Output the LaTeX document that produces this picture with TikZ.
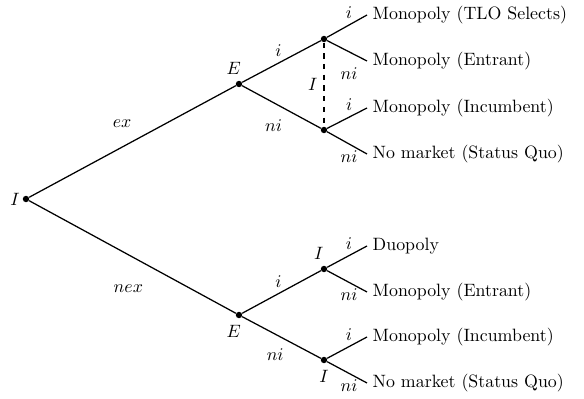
\documentclass[tikz,border=0pt]{standalone}
\usepackage{amsmath, amssymb}
\usepackage{tikz}
\usetikzlibrary{positioning, calc}

\begin{document}
\begin{tikzpicture}[x=0.56pt, y=-0.56pt,
	noeud/.style={circle, fill=black, inner sep=0pt, minimum size=3.6pt},
	issue/.style={anchor=west, inner sep=3pt},
	branche/.style={line width=0.7pt}]
	\useasboundingbox (0,0) rectangle (584,399);
	
	% racine : I choisit ex ou nex
	\node[noeud, label={[label distance=-2pt]left:$I$}] (r) at (26,199) {};
	
	% E choisit i ou ni
	\node[noeud, label={[xshift=-3pt]above:$E$}] (e1) at (239,84) {};
	\node[noeud, label={[xshift=-3pt]below:$E$}] (e2) at (239,315) {};
	
	% I choisit i ou ni
	\node[noeud] (a1) at (324,39) {};
	\node[noeud] (a2) at (324,130) {};
	\node[noeud, label={[xshift=-3pt]above:$I$}] (b1) at (324,269) {};
	\node[noeud, label={below:$I$}] (b2) at (324,360) {};
	
	% issues
	\node[issue] (f1) at (367,15) {Monopoly (TLO Selects)};
	\node[issue] (f2) at (367,61) {Monopoly (Entrant)};
	\node[issue] (f3) at (367,108) {Monopoly (Incumbent)};
	\node[issue] (f4) at (367,154) {No market (Status Quo)};
	\node[issue] (f5) at (367,246) {Duopoly};
	\node[issue] (f6) at (367,292) {Monopoly (Entrant)};
	\node[issue] (f7) at (367,337) {Monopoly (Incumbent)};
	\node[issue] (f8) at (367,383) {No market (Status Quo)};
	
	% premier niveau
	\draw[branche] (r) -- node[pos=.45, above=7pt] {$ex$} (e1);
	\draw[branche] (r) -- node[pos=.48, below=13pt] {$nex$} (e2);
	
	% deuxieme niveau
	\draw[branche] (e1) -- node[pos=.46, above] {$i$} (a1);
	\draw[branche] (e1) -- node[pos=.4, below=6pt] {$ni$} (a2);
	\draw[branche] (e2) -- node[pos=.46, above] {$i$} (b1);
	\draw[branche] (e2) -- node[pos=.42, below=4.5pt] {$ni$} (b2);
	
	% ensemble d'information de I
	\draw[branche, dashed] (a1) -- node[left] {$I$} (a2);
	
	% troisieme niveau
	\draw[branche] (a1) -- node[pos=.55, above] {$i$} (f1.west);
	\draw[branche] (a1) -- node[pos=.55, below=5.2pt] {$ni$} (f2.west);
	\draw[branche] (a2) -- node[pos=.55, above] {$i$} (f3.west);
	\draw[branche] (a2) -- node[pos=.55, below] {$ni$} (f4.west);
	\draw[branche] (b1) -- node[pos=.55, above] {$i$} (f5.west);
	\draw[branche] (b1) -- node[pos=.55, below] {$ni$} (f6.west);
	\draw[branche] (b2) -- node[pos=.55, above] {$i$} (f7.west);
	\draw[branche] (b2) -- node[pos=.55, below] {$ni$} (f8.west);
\end{tikzpicture}
\end{document}
